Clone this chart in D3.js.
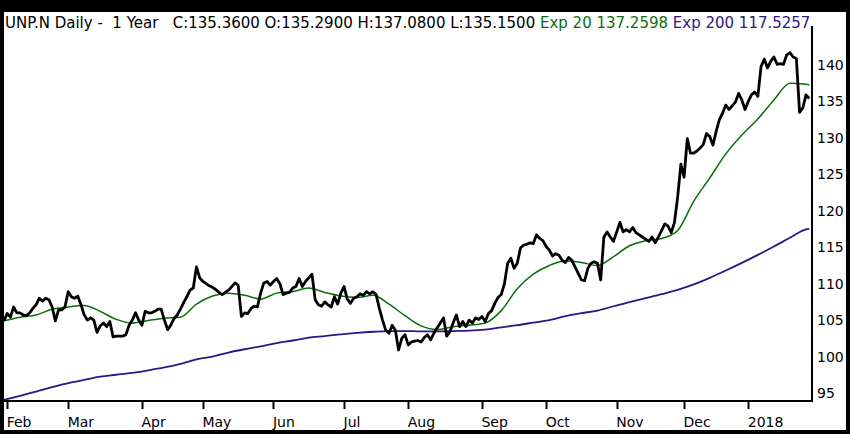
<!DOCTYPE html>
<html>
<head>
<meta charset="utf-8">
<script src="https://cdn.jsdelivr.net/npm/d3@7"></script>
<style>
    html, body { margin: 0; padding: 0; background: #000; }
    svg { display: block; }
    text { font-family: "DejaVu Sans", Verdana, sans-serif; }
</style>
</head>
<body>
<svg id="chart"></svg>
<script>
// Daily closes, one per trading day, 2017-01-31 .. 2018-01-30
const closes = [
    104.9, 105.9, 105.4, 106.8, 106.0, 106.0, 105.7, 105.6, 106.0, 106.6,
    107.1, 108.0, 107.6, 108.0, 107.8, 106.8, 104.9, 106.4, 106.4, 106.8,
    108.9, 108.2, 108.0, 108.3, 107.1, 105.7, 105.0, 105.3, 105.0, 103.3,
    104.2, 104.6, 104.1, 104.8, 102.7, 102.8, 102.8, 102.8, 103.0, 104.3,
    105.0, 106.0, 105.0, 104.3, 106.2, 106.0, 106.0, 106.2, 106.5, 106.5,
    105.0, 103.7, 104.3, 105.2, 105.7, 106.5, 107.4, 108.2, 109.1, 109.4,
    112.3, 110.8, 110.3, 110.0, 109.7, 109.5, 109.2, 108.8, 108.5, 108.8,
    109.1, 109.6, 110.1, 109.8, 105.5, 106.0, 105.9, 106.6, 106.9, 106.8,
    108.7, 110.1, 110.3, 109.8, 110.3, 110.7, 110.0, 108.5, 108.7, 108.8,
    109.4, 109.6, 110.7, 109.6, 110.3, 110.8, 111.3, 107.8, 107.1, 106.9,
    107.5, 107.1, 106.8, 108.2, 107.2, 108.7, 109.6, 107.9, 107.3, 108.0,
    108.2, 108.6, 108.4, 108.9, 108.6, 108.9, 108.5, 106.6, 105.0, 103.6,
    103.2, 104.3, 103.6, 100.9, 102.5, 103.0, 101.6, 102.0, 102.1, 102.2,
    102.0, 102.6, 103.0, 102.3, 103.2, 103.9, 104.6, 105.3, 102.8, 103.4,
    104.6, 105.7, 104.1, 104.8, 104.1, 105.0, 104.6, 105.3, 105.1, 105.5,
    104.8, 105.9, 106.3, 107.3, 108.1, 108.5, 110.0, 112.8, 113.5, 112.1,
    112.8, 114.9, 115.3, 115.4, 115.6, 115.5, 116.7, 116.2, 115.9, 115.1,
    114.6, 113.8, 114.1, 113.9, 113.2, 112.9, 113.6, 113.2, 112.3, 111.4,
    110.5, 110.4, 112.1, 112.8, 113.0, 112.8, 110.5, 116.4, 117.1, 116.4,
    115.8, 117.1, 118.4, 117.1, 117.4, 117.1, 117.7, 117.0, 116.7, 116.4,
    116.1, 115.8, 116.4, 115.6, 116.4, 117.3, 118.2, 117.9, 117.0, 118.4,
    121.9, 126.4, 124.6, 129.9, 127.9, 127.9, 128.2, 128.6, 129.1, 130.6,
    130.2, 129.0, 130.9, 132.5, 133.4, 134.5, 133.9, 134.4, 134.9, 136.1,
    135.2, 133.9, 135.0, 135.9, 136.3, 135.7, 139.8, 140.8, 139.6, 140.5,
    141.1, 140.1, 140.2, 140.1, 141.4, 141.7, 141.1, 140.9, 133.5, 134.1,
    135.9, 135.4
];

// Moving averages, read every 5th trading day (day 0, 5, 10 ... 250) plus the last day
const ema20 = [
    104.9, 105.4, 105.7, 106.5, 106.8, 107.0, 106.2, 105.1, 104.6, 104.95,
    105.25, 105.4, 107.2, 108.3, 108.7, 108.4, 107.9, 108.7, 108.9, 109.4,
    108.8, 108.3, 108.1, 108.4, 107.2, 105.6, 104.2, 103.7, 104.1, 104.3,
    104.6, 106.3, 109.3, 111.3, 112.5, 113.1, 112.9, 112.5, 113.7, 115.2,
    115.9, 116.2, 117.3, 121.3, 124.5, 127.8, 130.4, 132.6, 135.2, 137.5,
    137.35, 137.26
];
const ema200 = [
    94.04, 94.6, 95.2, 95.8, 96.35, 96.8, 97.24, 97.5, 97.76, 98.1,
    98.5, 99.0, 99.6, 100.0, 100.55, 101.0, 101.4, 101.85, 102.2, 102.6,
    102.8, 103.05, 103.25, 103.4, 103.5, 103.5, 103.45, 103.45, 103.5, 103.55,
    103.7, 104.0, 104.3, 104.65, 105.0, 105.55, 105.95, 106.3, 106.9, 107.45,
    108.0, 108.55, 109.15, 109.9, 110.8, 111.8, 112.85, 113.95, 115.1, 116.3,
    117.45, 117.53
];

const firstDay = "2017-01-31";
const lastDay = "2018-01-30";
const holidays = ["2017-02-20", "2017-04-14", "2017-05-29", "2017-07-04", "2017-09-04",
    "2017-11-23", "2017-12-25", "2018-01-01", "2018-01-15"];
const yTicks = [95, 100, 105, 110, 115, 120, 125, 130, 135, 140];

const titleParts = [
    {text: "UNP.N Daily -  1 Year   C:135.3600 O:135.2900 H:137.0800 L:135.1500 ", color: "#000"},
    {text: "Exp 20 137.2598 ", color: "#0a6e0a"},
    {text: "Exp 200 117.5257", color: "#2e1684"}
];

const width = 850, height = 434;
const plot = {left: 4, right: 812, top: 26, bottom: 401};

const fmt = d3.timeFormat("%Y-%m-%d");
const parse = d3.timeParse("%Y-%m-%d");
const days = d3.timeDay.range(parse(firstDay), d3.timeDay.offset(parse(lastDay), 1))
    .filter(d => d.getDay() !== 0 && d.getDay() !== 6 && !holidays.includes(fmt(d)));

const emaDays = d3.range(0, days.length - 1, 5).concat([days.length - 1]);

const x = d3.scaleLinear().domain([0, days.length - 1]).range([plot.left, 809.2]);
const y = d3.scaleLinear().domain([93.9, 145.35]).range([plot.bottom, plot.top]);

const svg = d3.select("#chart").attr("width", width).attr("height", height);

// white page inside the black frame
svg.append("rect")
    .attr("x", 4).attr("y", 12)
    .attr("width", 842).attr("height", 418)
    .attr("fill", "#fff");

svg.append("defs").append("clipPath").attr("id", "clip")
    .append("rect")
    .attr("x", plot.left).attr("y", plot.top)
    .attr("width", plot.right - plot.left).attr("height", plot.bottom - plot.top);

// Title
const title = svg.append("text")
    .attr("x", 5).attr("y", 28)
    .style("font-size", "15px");
title.selectAll("tspan")
    .data(titleParts)
    .enter()
    .append("tspan")
    .attr("fill", d => d.color)
    .attr("xml:space", "preserve")
    .style("white-space", "pre")
    .text(d => d.text);

const g = svg.append("g").attr("clip-path", "url(#clip)");

const lineDaily = d3.line()
    .x((d, i) => x(i))
    .y(d => y(d));
const lineEma = d3.line()
    .x((d, i) => x(emaDays[i]))
    .y(d => y(d))
    .curve(d3.curveMonotoneX);

g.append("path")
    .datum(ema200)
    .attr("d", lineEma)
    .attr("fill", "none")
    .attr("stroke", "#2e1684")
    .attr("stroke-width", 1.8);

g.append("path")
    .datum(ema20)
    .attr("d", lineEma)
    .attr("fill", "none")
    .attr("stroke", "#0a6e0a")
    .attr("stroke-width", 1.5);

g.append("path")
    .datum(closes)
    .attr("d", lineDaily)
    .attr("fill", "none")
    .attr("stroke", "#000")
    .attr("stroke-width", 2.8)
    .attr("stroke-linejoin", "round");

// Axes frame: bottom and right lines
svg.append("line")
    .attr("x1", plot.left).attr("x2", plot.right + 1)
    .attr("y1", plot.bottom).attr("y2", plot.bottom)
    .attr("stroke", "#000").attr("stroke-width", 2);
svg.append("line")
    .attr("x1", plot.right).attr("x2", plot.right)
    .attr("y1", plot.top).attr("y2", plot.bottom + 1)
    .attr("stroke", "#000").attr("stroke-width", 2);

// Month ticks: first trading day of each month
const monthTicks = d3.range(1, days.length)
    .filter(i => days[i].getMonth() !== days[i - 1].getMonth());

const xAxis = svg.append("g");
xAxis.selectAll("line")
    .data(monthTicks)
    .enter()
    .append("line")
    .attr("x1", i => Math.round(x(i)) + 0.5)
    .attr("x2", i => Math.round(x(i)) + 0.5)
    .attr("y1", plot.bottom)
    .attr("y2", plot.bottom + 8)
    .attr("stroke", "#000")
    .attr("stroke-width", 2);
xAxis.selectAll("text")
    .data(monthTicks)
    .enter()
    .append("text")
    .attr("x", i => x(i) - 0.5)
    .attr("y", 427)
    .style("font-size", "14px")
    .attr("fill", "#000")
    .text(i => days[i].getMonth() === 0 ? d3.timeFormat("%Y")(days[i]) : d3.timeFormat("%b")(days[i]));

// Price labels on the right
svg.append("g").selectAll("text")
    .data(yTicks)
    .enter()
    .append("text")
    .attr("x", 817)
    .attr("y", d => y(d))
    .attr("dy", "0.36em")
    .style("font-size", "14px")
    .attr("fill", "#000")
    .text(d => d);
</script>
</body>
</html>
